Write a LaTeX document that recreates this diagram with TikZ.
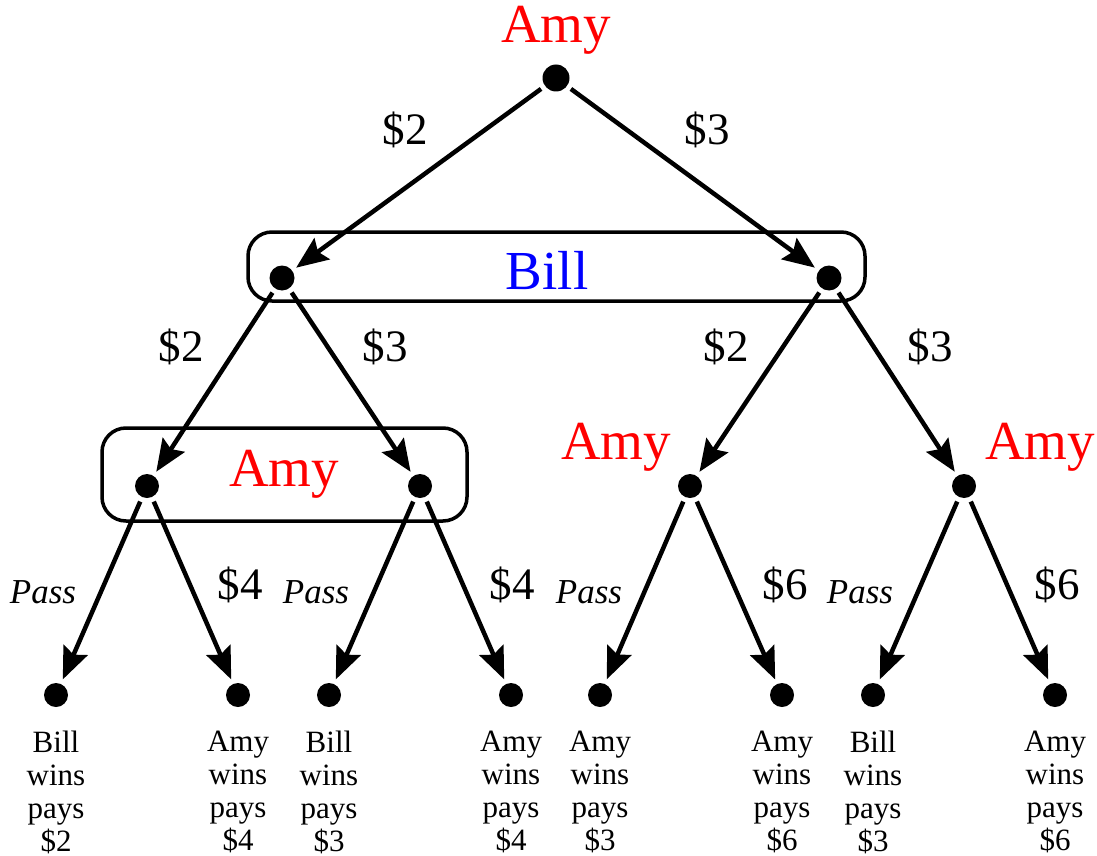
\documentclass[tikz,border=0pt]{standalone}
\usepackage{fontspec}
\setmainfont{Liberation Serif}
\usetikzlibrary{arrows.meta}
\begin{document}
\begin{tikzpicture}[x=1pt,y=-1pt,
  dot/.style={circle,fill=black,inner sep=0pt,minimum size=24pt,outer sep=5pt},
  edge/.style={line width=4.5pt,-{Stealth[length=32pt,width=26pt,inset=5pt]}},
  infoset/.style={draw,line width=3.5pt,rounded corners=24pt},
  player/.style={font=\fontsize{55}{55}\selectfont},
  bid/.style={font=\fontsize{45}{45}\selectfont},
  pass/.style={font=\fontsize{35}{35}\selectfont\itshape},
  result/.style={align=center,font=\fontsize{31}{33}\selectfont}]
\useasboundingbox (0,0) rectangle (1097,856);
% information sets
\draw[infoset] (248,232) rectangle (865,301);
\draw[infoset] (102,428) rectangle (467,521);
% nodes
\node[dot,minimum size=27pt] (r) at (556,78) {};
\node[dot,minimum size=25pt] (bl) at (282,278) {};
\node[dot,minimum size=25pt] (br) at (829,278) {};
\node[dot] (a) at (147,486) {};
\node[dot] (b) at (420,486) {};
\node[dot] (c) at (690,486) {};
\node[dot] (d) at (964,486) {};
\node[dot] (l1) at (56,695) {};
\node[dot] (l2) at (238,695) {};
\node[dot] (l3) at (329,695) {};
\node[dot] (l4) at (511,695) {};
\node[dot] (l5) at (600,695) {};
\node[dot] (l6) at (782,695) {};
\node[dot] (l7) at (873,695) {};
\node[dot] (l8) at (1055,695) {};
% edges
\draw[edge] (r) -- (bl);
\draw[edge] (r) -- (br);
\draw[edge] (bl) -- (a);
\draw[edge] (bl) -- (b);
\draw[edge] (br) -- (c);
\draw[edge] (br) -- (d);
\draw[edge] (a) -- (l1);
\draw[edge] (a) -- (l2);
\draw[edge] (b) -- (l3);
\draw[edge] (b) -- (l4);
\draw[edge] (c) -- (l5);
\draw[edge] (c) -- (l6);
\draw[edge] (d) -- (l7);
\draw[edge] (d) -- (l8);
% player labels
\node[player,text=red] (pr) at (556,30) {Amy};
\node[player,text=blue] (pb) at (547,270) {Bill};
\node[player,text=red] (pa) at (284,474) {Amy};
\node[player,text=red] (pc) at (616,447) {Amy};
\node[player,text=red] (pd) at (1040,447) {Amy};
% bid labels
\node[bid] (t1) at (405,130) {\$2};
\node[bid] (t2) at (707,130) {\$3};
\node[bid] (t3) at (181,347) {\$2};
\node[bid] (t4) at (385,347) {\$3};
\node[bid] (t5) at (726,347) {\$2};
\node[bid] (t6) at (930,347) {\$3};
\node[pass] (p1) at (43,592) {Pass};
\node[bid] (t7) at (240,585) {\$4};
\node[pass] (p2) at (316,592) {Pass};
\node[bid] (t8) at (512,585) {\$4};
\node[pass] (p3) at (589,592) {Pass};
\node[bid] (t9) at (785,585) {\$6};
\node[pass] (p4) at (860,592) {Pass};
\node[bid] (t10) at (1057,585) {\$6};
% results
\node[result] (o1) at (56,792) {Bill\\wins\\pays\\\$2};
\node[result] (o2) at (238,792) {Amy\\wins\\pays\\\$4};
\node[result] (o3) at (329,792) {Bill\\wins\\pays\\\$3};
\node[result] (o4) at (511,792) {Amy\\wins\\pays\\\$4};
\node[result] (o5) at (600,792) {Amy\\wins\\pays\\\$3};
\node[result] (o6) at (782,792) {Amy\\wins\\pays\\\$6};
\node[result] (o7) at (873,792) {Bill\\wins\\pays\\\$3};
\node[result] (o8) at (1055,792) {Amy\\wins\\pays\\\$6};
\end{tikzpicture}
\end{document}
